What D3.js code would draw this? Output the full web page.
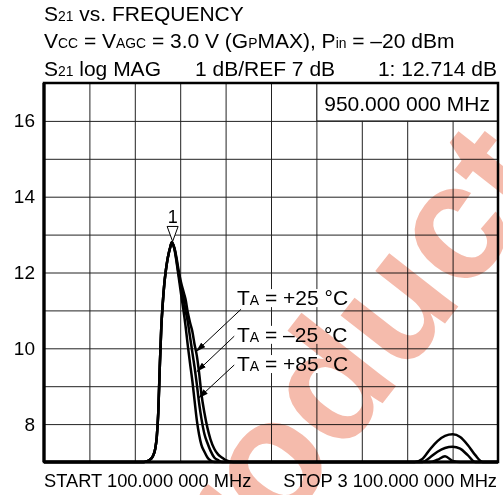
<!DOCTYPE html>
<html>
<head>
<meta charset="utf-8">
<script src="https://cdn.jsdelivr.net/npm/d3@7"></script>
<style>
  body { margin: 0; background: #fff; }
  svg { display: block; font-family: "Liberation Sans", Arial, sans-serif; }
</style>
</head>
<body>
<svg id="chart"></svg>
<script>
// frequency sweep points (MHz)
const freqMHz = [100, 400, 700, 760, 800, 820, 835, 845, 855, 865, 875, 885, 895, 905, 915, 925, 935, 945, 955,
  965, 975, 990, 1005, 1020, 1035, 1050, 1065, 1080, 1095, 1110, 1125, 1140, 1160, 1180, 1200, 1225, 1250, 1275,
  1300, 1350, 1400, 1600, 2000, 2400, 2550, 2600, 2650, 2700, 2750, 2800, 2850, 2900, 2950, 3000, 3050, 3100];

// S21 (dB), one list per temperature
const s21Plus25 = [6.2, 6.5, 6.9, 6.98, 7.06, 7.16, 7.35, 7.65, 8.3, 9.5, 10.55, 11.2, 11.7, 12.05, 12.32, 12.52, 12.68, 12.8, 12.72,
  12.6, 12.4, 12.05, 11.75, 11.52, 11.3, 10.95, 10.68, 10.45, 10.1, 9.8, 9.35, 8.8, 8.3, 7.9, 7.6, 7.35, 7.2, 7.12,
  7.05, 6.95, 6.85, 6.6, 6.4, 6.5, 6.9, 7.08, 7.33, 7.55, 7.69, 7.73, 7.66, 7.45, 7.18, 6.95, 6.75, 6.7];
const s21Minus25 = [6.2, 6.5, 6.9, 6.98, 7.06, 7.16, 7.35, 7.65, 8.3, 9.5, 10.55, 11.2, 11.7, 12.05, 12.32, 12.52, 12.68, 12.8, 12.72,
  12.58, 12.35, 11.95, 11.62, 11.36, 11.0, 10.7, 10.3, 9.9, 9.5, 9.05, 8.55, 8.15, 7.74, 7.5, 7.3, 7.12, 7.05, 6.98,
  6.93, 6.85, 6.75, 6.5, 6.3, 6.4, 6.8, 7.0, 7.12, 7.27, 7.37, 7.40, 7.35, 7.18, 7.0, 6.85, 6.7, 6.6];
const s21Plus85 = [6.2, 6.5, 6.9, 6.98, 7.06, 7.16, 7.35, 7.65, 8.3, 9.5, 10.55, 11.2, 11.7, 12.05, 12.32, 12.52, 12.68, 12.8, 12.72,
  12.55, 12.3, 11.88, 11.45, 11.05, 10.6, 10.08, 9.6, 9.15, 8.62, 8.1, 7.72, 7.45, 7.27, 7.12, 7.04, 6.98, 6.94, 6.9,
  6.86, 6.8, 6.7, 6.4, 6.2, 6.3, 6.6, 6.7, 6.9, 7.06, 7.15, 7.03, 6.9, 6.8, 6.75, 6.65, 6.55, 6.5];

const tempLabels = ['+25 °C', '\u201325 °C', '+85 °C'];
const freqRange = [100, 3100];
const gainRange = [7, 17];
const freqGridStep = 300;
const gainGridStep = 1;
const yTickValues = [8, 10, 12, 14, 16];

const markerFreq = 950;
const markerGain = 12.714;
const markerLabel = '1';

// label text anchors and arrow ends, in data units
const labelFreq = [1375, 1375, 1375];
const labelGain = [11.14, 10.17, 9.4];
const arrowFromFreq = [1402, 1357, 1357];
const arrowFromGain = [11.03, 10.32, 9.56];
const arrowToFreq = [1104, 1109, 1120];
const arrowToGain = [9.91, 9.38, 8.68];

// header lines, [text, isSubscript]
const titleLine1 = [['S', 0], ['21', 1], [' vs. FREQUENCY', 0]];
const titleLine2 = [['V', 0], ['CC', 1], [' = V', 0], ['AGC', 1], [' = 3.0 V (G', 0], ['P', 1], ['MAX), P', 0], ['in', 1], [' = \u201320 dBm', 0]];
const scaleLineLeft = [['S', 0], ['21', 1], [' log MAG', 0]];
const scaleLineMid = '1 dB/REF 7 dB';
const scaleLineRight = '1: 12.714 dB';
const markerFreqText = '950.000 000 MHz';
const startText = 'START 100.000 000 MHz';
const stopText = 'STOP 3 100.000 000 MHz';

class S21Chart {

  constructor(_config) {
    this.config = {
      parentElement: _config.parentElement,
      containerWidth: _config.containerWidth || 503,
      containerHeight: _config.containerHeight || 495,
      margin: { top: 83, bottom: 33, right: 5, left: 44 }
    };
    this.initVis();
  }

  initVis() {
    let vis = this;
    const m = vis.config.margin;
    vis.width = vis.config.containerWidth - m.left - m.right;
    vis.height = vis.config.containerHeight - m.top - m.bottom;

    vis.svg = d3.select(vis.config.parentElement)
      .attr('width', vis.config.containerWidth)
      .attr('height', vis.config.containerHeight);

    vis.x = d3.scaleLinear().domain(freqRange).range([0, vis.width]);
    vis.y = d3.scaleLinear().domain(gainRange).range([vis.height, 0]).clamp(true);

    vis.chart = vis.svg.append('g').attr('transform', `translate(${m.left},${m.top})`);

    // grid
    vis.chart.append('g')
      .attr('class', 'grid')
      .attr('transform', `translate(0,${vis.height})`)
      .call(d3.axisBottom(vis.x).tickValues(d3.range(freqRange[0], freqRange[1] + 1, freqGridStep))
        .tickSize(-vis.height).tickFormat(''))
      .call(g => g.select('.domain').remove());
    vis.chart.append('g')
      .attr('class', 'grid')
      .call(d3.axisLeft(vis.y).tickValues(d3.range(gainRange[0], gainRange[1] + 1, gainGridStep))
        .tickSize(-vis.width).tickFormat(''))
      .call(g => g.select('.domain').remove());
    vis.chart.selectAll('.grid line').attr('stroke', '#222').attr('stroke-width', 1);

    // y labels
    vis.chart.append('g')
      .call(d3.axisLeft(vis.y).tickValues(yTickValues).tickSize(0).tickPadding(9).tickFormat(d => d))
      .call(g => g.select('.domain').remove())
      .selectAll('text')
      .attr('font-size', 19).attr('font-family', '"Liberation Sans", Arial, sans-serif').attr('fill', '#000');

    // traces
    const line = d3.line()
      .x(d => vis.x(d[0]))
      .y(d => vis.y(d[1]))
      .curve(d3.curveMonotoneX);
    const series = [s21Plus25, s21Minus25, s21Plus85];
    vis.chart.append('g').selectAll('path')
      .data(series)
      .join('path')
      .attr('fill', 'none')
      .attr('stroke', '#000')
      .attr('stroke-width', 2.5)
      .attr('d', vals => line(freqMHz.map((f, i) => [f, vals[i]])));

    // marker 1
    const mx = vis.x(markerFreq), my = vis.y(markerGain) - 4;
    vis.chart.append('path')
      .attr('d', `M${mx},${my}L${mx - 5.5},${my - 15}L${mx + 5.5},${my - 15}Z`)
      .attr('fill', '#fff').attr('stroke', '#000').attr('stroke-width', 1);
    vis.chart.append('text')
      .attr('x', mx).attr('y', my - 18)
      .attr('text-anchor', 'middle').attr('font-size', 18)
      .text(markerLabel);

    // marker frequency readout box
    const box = vis.chart.append('g');
    const bx = vis.x(freqRange[0] + 6 * freqGridStep);
    box.append('rect')
      .attr('x', bx + 0.5).attr('y', 0)
      .attr('width', vis.width - bx).attr('height', vis.y(16))
      .attr('fill', '#fff').attr('stroke', '#222').attr('stroke-width', 1);
    box.append('text')
      .attr('x', vis.width - 8).attr('y', vis.y(16) - 10)
      .attr('text-anchor', 'end').attr('font-size', 21)
      .text(markerFreqText);

    // temperature labels with arrows
    vis.svg.append('defs').append('marker')
      .attr('id', 'arrowhead')
      .attr('viewBox', '0 0 10 6').attr('refX', 10).attr('refY', 3)
      .attr('markerWidth', 10).attr('markerHeight', 6)
      .attr('markerUnits', 'userSpaceOnUse')
      .attr('orient', 'auto')
      .append('path').attr('d', 'M0,0L10,3L0,6Z').attr('fill', '#000');

    const labels = vis.chart.append('g');
    tempLabels.forEach((t, i) => {
      const g = labels.append('g');
      const bg = g.append('rect').attr('fill', '#fff');
      const txt = g.append('text')
        .attr('x', vis.x(labelFreq[i])).attr('y', vis.y(labelGain[i]))
        .attr('font-size', 21);
      txt.append('tspan').text('T');
      txt.append('tspan').attr('font-size', 14).text('A');
      txt.append('tspan').text(' = ' + t);
      const bb = txt.node().getBBox();
      bg.attr('x', bb.x - 1).attr('y', bb.y + 3).attr('width', bb.width + 2).attr('height', bb.height - 5);

      labels.append('line')
        .attr('x1', vis.x(arrowFromFreq[i])).attr('y1', vis.y(arrowFromGain[i]))
        .attr('x2', vis.x(arrowToFreq[i])).attr('y2', vis.y(arrowToGain[i]))
        .attr('stroke', '#000').attr('stroke-width', 1)
        .attr('marker-end', 'url(#arrowhead)');
    });

    // frame
    vis.chart.append('rect')
      .attr('x', 0).attr('y', 0).attr('width', vis.width).attr('height', vis.height)
      .attr('fill', 'none').attr('stroke', '#000').attr('stroke-width', 2.5);
    vis.chart.append('line')
      .attr('x1', 0).attr('x2', 0).attr('y1', 0).attr('y2', vis.height)
      .attr('stroke', '#000').attr('stroke-width', 3.2);
    vis.chart.append('line')
      .attr('x1', 0).attr('x2', vis.width).attr('y1', vis.height).attr('y2', vis.height)
      .attr('stroke', '#000').attr('stroke-width', 3.2);

    // header text
    const header = (parts, x, y, size) => {
      const t = vis.svg.append('text').attr('x', x).attr('y', y).attr('font-size', size);
      parts.forEach(p => {
        t.append('tspan').attr('font-size', p[1] ? size * 0.66 : size).text(p[0]);
      });
      return t;
    };
    header(titleLine1, m.left, 21, 21);
    header(titleLine2, m.left, 48, 21);
    header(scaleLineLeft, m.left, 76, 21);
    vis.svg.append('text').attr('x', 195).attr('y', 76).attr('font-size', 21).text(scaleLineMid);
    vis.svg.append('text').attr('x', m.left + vis.width - 1).attr('y', 76)
      .attr('text-anchor', 'end').attr('font-size', 21).text(scaleLineRight);

    // sweep limits
    vis.svg.append('text').attr('x', m.left).attr('y', 487).attr('font-size', 18.3).text(startText);
    vis.svg.append('text').attr('x', m.left + vis.width - 1).attr('y', 487)
      .attr('text-anchor', 'end').attr('font-size', 18.3).text(stopText);

    // watermark
    vis.svg.append('text')
      .attr('transform', 'translate(171.5,673.4) rotate(-52)')
      .attr('font-size', 165).attr('font-weight', 'bold')
      .attr('fill', 'rgb(245,187,172)')
      .style('mix-blend-mode', 'multiply')
      .text('Product');
  }
}

new S21Chart({ parentElement: '#chart' });
</script>
</body>
</html>
